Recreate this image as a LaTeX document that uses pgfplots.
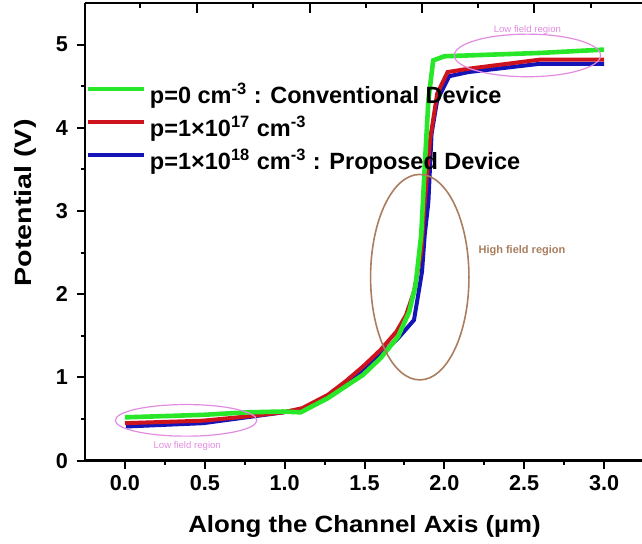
\documentclass[border=0pt]{standalone}
\usepackage{fontspec}
\setmainfont{Liberation Sans}
\usepackage{pgfplots}
\pgfplotsset{compat=1.18}
\definecolor{cgreen}{RGB}{40,230,40}
\definecolor{cred}{RGB}{205,20,30}
\definecolor{cblue}{RGB}{20,20,185}
\definecolor{cpink}{RGB}{225,140,225}
\definecolor{cbrown}{RGB}{170,125,95}
\pgfplotstableread{
x y
0.00 0.52
0.49 0.55
0.76 0.58
0.99 0.59
1.10 0.58
1.27 0.75
1.38 0.89
1.49 1.03
1.60 1.23
1.71 1.49
1.78 1.79
1.82 2.11
1.855 2.71
1.866 3.11
1.877 3.53
1.90 4.33
1.93 4.81
2.00 4.86
2.60 4.90
3.00 4.94
}\greendata
\pgfplotstableread{
x y
0.00 0.45
0.49 0.48
0.76 0.53
0.99 0.58
1.11 0.63
1.27 0.79
1.38 0.95
1.49 1.13
1.60 1.33
1.70 1.55
1.76 1.75
1.81 2.03
1.855 2.51
1.877 3.11
1.91 3.85
1.955 4.41
2.02 4.67
2.15 4.71
2.60 4.82
3.00 4.82
}\reddata
\pgfplotstableread{
x y
0.007 0.41
0.49 0.45
0.76 0.52
0.99 0.58
1.14 0.63
1.27 0.76
1.38 0.91
1.49 1.07
1.60 1.27
1.71 1.47
1.81 1.69
1.86 2.27
1.877 2.71
1.90 3.11
1.92 3.93
1.955 4.33
2.03 4.62
2.15 4.67
2.60 4.77
3.00 4.77
}\bluedata
\begin{document}
\begin{tikzpicture}
\begin{axis}[
  name=main,
  scale only axis,
  width=279.5pt, height=228.8pt,
  xmin=-0.25, xmax=3.25, ymin=0, ymax=5.5,
  axis x line*=box, axis y line*=left,
  xtick pos=left, ytick pos=left,
  xtick={0,0.5,...,3}, ytick={0,1,...,5},
  xticklabels={0.0,0.5,1.0,1.5,2.0,2.5,3.0},
  minor x tick num=1, minor y tick num=1,
  tick align=outside,
  major tick length=4pt, minor tick length=2pt,
  every tick/.style={line width=1pt, black},
  axis line style={line width=1.2pt},
  /pgf/number format/assume math mode=true,
  tick label style={font=\fontsize{10.8}{13}\selectfont\bfseries},
  yticklabel style={xshift=-1pt},
  xlabel={\scalebox{1.1}[1]{Along the Channel Axis (µm)}},
  ylabel={\scalebox{1.22}[1]{Potential (V)}},
  label style={font=\fontsize{11.75}{14}\selectfont\bfseries},
  xlabel style={at={(axis description cs:0.5,0)}, anchor=center, yshift=-33pt},
  ylabel style={at={(axis description cs:-0.107,0.563)}, anchor=center},
  reverse legend,
  legend style={draw=none, fill=none, at={(axis description cs:0,0.725)}, anchor=west,
    inner xsep=0pt, inner ysep=0pt, row sep=0pt,
    nodes={inner ysep=0pt, text height=12pt, text depth=4.5pt},
    font=\fontsize{11.75}{14}\selectfont\bfseries},
  legend cell align=left,
  legend image code/.code={\draw[#1] (0pt,3.5pt) -- (28pt,3.5pt);},
  clip=false,
]
\addplot[cblue, line width=2pt] table[x=x,y=y] {\bluedata};
\addlegendentry{p=1×10\textsuperscript{18} cm\textsuperscript{-3} : Proposed Device}
\addplot[cred, line width=2pt] table[x=x,y=y] {\reddata};
\addlegendentry{p=1×10\textsuperscript{17} cm\textsuperscript{-3}}
\addplot[cgreen, line width=2.3pt] table[x=x,y=y] {\greendata};
\addlegendentry{p=0 cm\textsuperscript{-3} : Conventional Device}
\draw[cpink, line width=0.6pt] (axis cs:0.383,0.484) ellipse [x radius=0.443, y radius=0.19];
\node[cpink, font=\fontsize{4.8}{5}\selectfont] at (axis cs:0.39,0.18) {Low field region};
\draw[cpink, line width=0.6pt] (axis cs:2.52,4.87) ellipse [x radius=0.458, y radius=0.256];
\node[cpink, font=\fontsize{4.8}{5}\selectfont] at (axis cs:2.52,5.18) {Low field region};
\draw[cbrown, line width=0.8pt] (axis cs:1.846,2.205) ellipse [x radius=0.308, y radius=1.235];
\node[cbrown, anchor=west, font=\fontsize{5.5}{6}\selectfont\bfseries] at (axis cs:2.17,2.52) {High field region};
\draw[black, line width=1.1pt]
  (rel axis cs:0.2003,1) -- (rel axis cs:0.2003,0.979)
  (rel axis cs:0.4023,1) -- (rel axis cs:0.4023,0.979)
  (rel axis cs:0.6023,1) -- (rel axis cs:0.6023,0.979)
  (rel axis cs:0.8034,1) -- (rel axis cs:0.8034,0.979)
  (rel axis cs:0.0989,1) -- (rel axis cs:0.0989,0.990)
  (rel axis cs:0.3011,1) -- (rel axis cs:0.3011,0.990)
  (rel axis cs:0.5023,1) -- (rel axis cs:0.5023,0.990)
  (rel axis cs:0.7031,1) -- (rel axis cs:0.7031,0.990)
  (rel axis cs:0.9051,1) -- (rel axis cs:0.9051,0.990);
\draw[black, line width=1.2pt] (rel axis cs:0,1) -- (rel axis cs:1,1);
\end{axis}
\pgfresetboundingbox
\useasboundingbox ([shift={(-42.5pt,-41.2pt)}]main.south west) rectangle ([shift={(278.5pt,230.3pt)}]main.south west);
\end{tikzpicture}
\end{document}
